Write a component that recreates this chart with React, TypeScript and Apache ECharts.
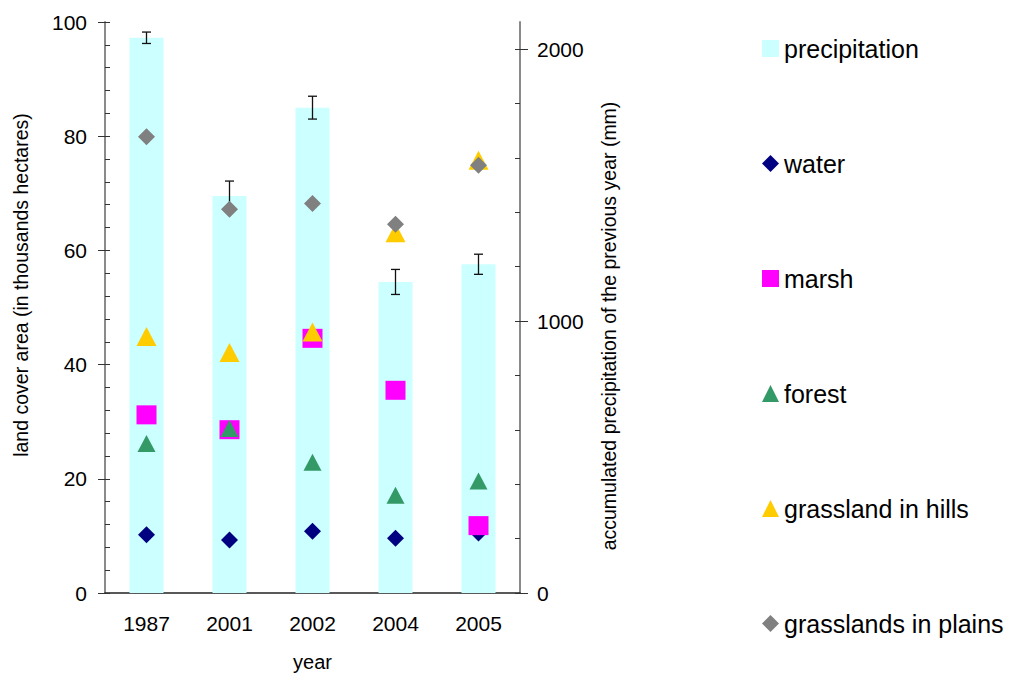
import React, { useEffect, useRef } from "react";
import * as echarts from "echarts";

// Survey years on the category axis
const years = ["1987", "2001", "2002", "2004", "2005"];

// Accumulated precipitation of the previous year (mm) and its error range
const precipitation = [2042, 1460, 1785, 1144, 1209];
const precipitationError = [21, 55, 42, 46, 37];

// Land cover area (thousand hectares)
const water = [10.2, 9.3, 10.8, 9.6, 10.5];
const marsh = [31.2, 28.6, 44.6, 35.5, 11.8];
const forest = [26.2, 28.8, 22.9, 17.1, 19.6];
const grasslandHills = [44.9, 42.1, 45.7, 63.1, 75.8];
const grasslandPlains = [79.9, 67.2, 68.2, 64.6, 74.9];

// Axis scales and tick labels
const areaMax = 100;
const areaStep = 20;
const precipMax = 2100;
const precipLabels = [0, 1000, 2000];
const precipMinorTicks = [0, 200, 400, 600, 800, 1000, 1200, 1400, 1600, 1800, 2000];

const FONT = "'Liberation Sans', Arial, Helvetica, sans-serif";
const AXIS_GREY = "#8a8a8a";
const TICK_COLOR = "#333333";

export default function App() {
  const ref = useRef<HTMLDivElement>(null);

  useEffect(() => {
    if (!ref.current) return;
    const chart = echarts.init(ref.current, undefined, { renderer: "svg" });

    const errorData = precipitation.map((v, i) => [i, v, precipitationError[i]]);

    const option: any = {
      animation: false,
      backgroundColor: "#ffffff",
      textStyle: { fontFamily: FONT },
      grid: { left: 105, right: 489, top: 22, bottom: 82, containLabel: false },
      legend: {
        orient: "vertical",
        left: 762,
        top: 36,
        padding: 0,
        itemGap: 90,
        itemWidth: 17,
        itemHeight: 17,
        selectedMode: false,
        textStyle: { fontFamily: FONT, fontSize: 25, color: "#000", lineHeight: 24 },
        data: [
          { name: "precipitation", icon: "rect" },
          { name: "water" },
          { name: "marsh" },
          { name: "forest" },
          { name: "grassland in hills" },
          { name: "grasslands in plains" },
        ],
      },
      xAxis: {
        type: "category",
        data: years,
        axisLine: { lineStyle: { color: "#222", width: 1.5 } },
        axisTick: { show: false },
        axisLabel: { color: "#000", fontSize: 21, margin: 20, fontFamily: FONT },
        name: "year",
        nameLocation: "middle",
        nameGap: 59,
        nameTextStyle: { color: "#000", fontSize: 20, fontFamily: FONT },
        splitLine: { show: false },
      },
      yAxis: [
        {
          type: "value",
          position: "left",
          min: 0,
          max: areaMax,
          interval: areaStep,
          axisLine: { show: true, lineStyle: { color: AXIS_GREY, width: 2 } },
          axisTick: { show: true, inside: true, length: 5, lineStyle: { color: TICK_COLOR } },
          minorTick: { show: true, splitNumber: 5, length: 5, lineStyle: { color: TICK_COLOR } },
          axisLabel: { color: "#000", fontSize: 21, margin: 18, fontFamily: FONT },
          splitLine: { show: false },
          minorSplitLine: { show: false },
        },
        {
          type: "value",
          position: "right",
          min: 0,
          max: precipMax,
          axisLine: { show: true, lineStyle: { color: AXIS_GREY, width: 2 } },
          axisTick: {
            show: true,
            inside: true,
            length: 5,
            customValues: precipMinorTicks,
            lineStyle: { color: TICK_COLOR },
          },
          axisLabel: {
            color: "#000",
            fontSize: 21,
            margin: 17,
            fontFamily: FONT,
            customValues: precipLabels,
            formatter: (v: number) => String(v),
          },
          splitLine: { show: false },
        },
        {
          // outer half of the major ticks on the area axis
          type: "value",
          position: "left",
          min: 0,
          max: areaMax,
          interval: areaStep,
          axisLine: { show: false },
          axisTick: { show: true, inside: false, length: 7, lineStyle: { color: TICK_COLOR } },
          axisLabel: { show: false },
          splitLine: { show: false },
        },
        {
          // outer half of the major ticks on the precipitation axis
          type: "value",
          position: "right",
          min: 0,
          max: precipMax,
          axisLine: { show: false },
          axisTick: {
            show: true,
            inside: false,
            length: 8,
            customValues: precipLabels,
            lineStyle: { color: TICK_COLOR },
          },
          axisLabel: { show: false },
          splitLine: { show: false },
        },
      ],
      graphic: [
        {
          type: "text",
          x: 21,
          y: 285,
          rotation: Math.PI / 2,
          style: {
            text: "land cover area (in thousands hectares)",
            fontFamily: FONT,
            fontSize: 19.5,
            fill: "#000",
            align: "center",
            verticalAlign: "middle",
          },
        },
        {
          type: "text",
          x: 609,
          y: 326,
          rotation: Math.PI / 2,
          style: {
            text: "accumulated precipitation of the previous year (mm)",
            fontFamily: FONT,
            fontSize: 19.5,
            fill: "#000",
            align: "center",
            verticalAlign: "middle",
          },
        },
      ],
      series: [
        {
          name: "precipitation",
          type: "bar",
          yAxisIndex: 1,
          data: precipitation,
          barWidth: 34,
          itemStyle: { color: "#ccffff" },
          z: 1,
        },
        {
          name: "precipitation error",
          type: "custom",
          yAxisIndex: 1,
          data: errorData,
          z: 2,
          renderItem: (params: any, api: any) => {
            const i = api.value(0);
            const v = api.value(1);
            const e = api.value(2);
            const top = api.coord([i, v + e]);
            const bottom = api.coord([i, v - e]);
            const cap = 4.5;
            const style = { stroke: "#111", lineWidth: 1.3 };
            return {
              type: "group",
              children: [
                { type: "line", shape: { x1: top[0], y1: top[1], x2: bottom[0], y2: bottom[1] }, style },
                { type: "line", shape: { x1: top[0] - cap, y1: top[1], x2: top[0] + cap, y2: top[1] }, style },
                {
                  type: "line",
                  shape: { x1: bottom[0] - cap, y1: bottom[1], x2: bottom[0] + cap, y2: bottom[1] },
                  style,
                },
              ],
            };
          },
        },
        {
          name: "water",
          type: "scatter",
          data: water,
          symbol: "diamond",
          symbolSize: 17,
          itemStyle: { color: "#000080", opacity: 1 },
          z: 3,
        },
        {
          name: "marsh",
          type: "scatter",
          data: marsh,
          symbol: "rect",
          symbolSize: [20, 19],
          itemStyle: { color: "#ff00ff", opacity: 1 },
          z: 3,
        },
        {
          name: "forest",
          type: "scatter",
          data: forest,
          symbol: "triangle",
          symbolSize: [18, 17],
          itemStyle: { color: "#339966", opacity: 1 },
          z: 3,
        },
        {
          name: "grassland in hills",
          type: "scatter",
          data: grasslandHills,
          symbol: "triangle",
          symbolSize: [20, 19],
          itemStyle: { color: "#ffcc00", opacity: 1 },
          z: 3,
        },
        {
          name: "grasslands in plains",
          type: "scatter",
          data: grasslandPlains,
          symbol: "diamond",
          symbolSize: 17,
          itemStyle: { color: "#808080", opacity: 1 },
          z: 3,
        },
      ],
    };

    chart.setOption(option);
    return () => chart.dispose();
  }, []);

  return (
    <div
      ref={ref}
      style={{ position: "absolute", left: 0, top: 0, width: 1009, height: 677 }}
    />
  );
}
